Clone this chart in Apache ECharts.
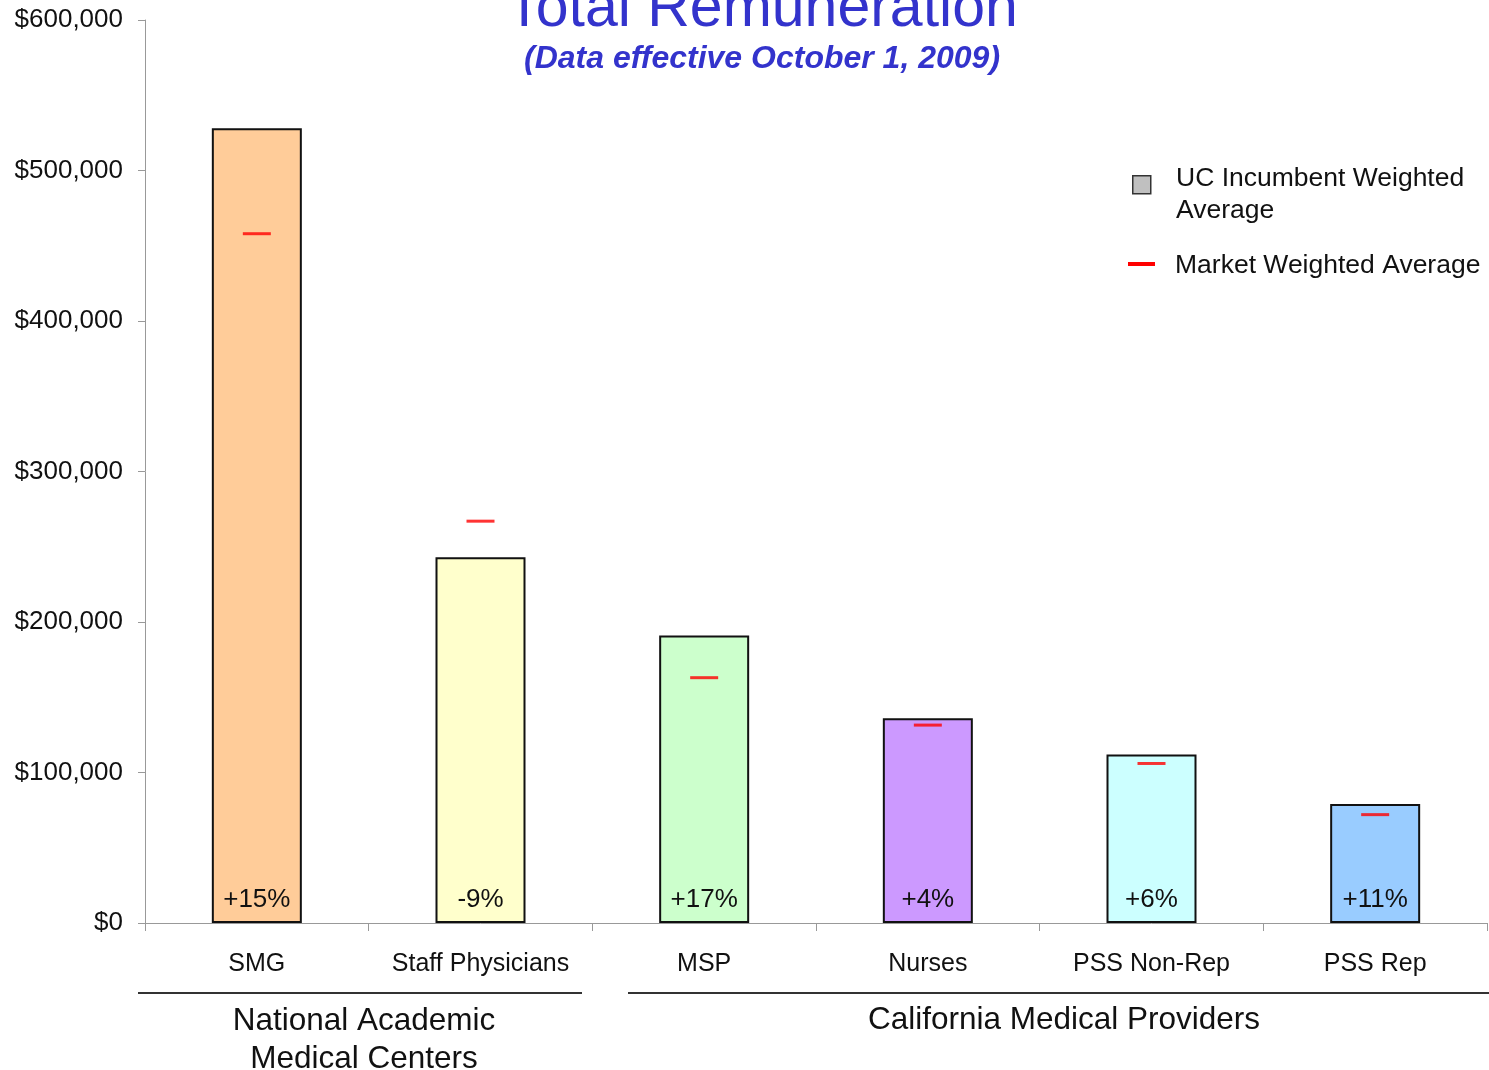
<!DOCTYPE html>
<html>
<head>
<meta charset="utf-8">
<script src="https://cdn.jsdelivr.net/npm/echarts@6/dist/echarts.min.js"></script>
<style>
html,body{margin:0;padding:0;background:#fff;}
#chart{width:1489px;height:1070px;}
</style>
</head>
<body>
<div id="chart"></div>
<script>
// ---- data ----
const categories = ['SMG', 'Staff Physicians', 'MSP', 'Nurses', 'PSS Non-Rep', 'PSS Rep'];
const ucIncumbent = [528000, 243000, 191000, 136000, 112000, 79000];
const marketAverage = [458000, 267000, 163000, 131500, 106000, 72000];
const diffLabels = ['+15%', '-9%', '+17%', '+4%', '+6%', '+11%'];
const barColors = ['#FFCC99', '#FFFFCC', '#CCFFCC', '#CC99FF', '#CCFFFF', '#99CCFF'];
const groupNames = ['National Academic\nMedical Centers', 'California Medical Providers'];
const yTicks = [0, 100000, 200000, 300000, 400000, 500000, 600000];

const FONT = '"Liberation Sans", Arial, sans-serif';
const chart = echarts.init(document.getElementById('chart'));

const option = {
  backgroundColor: '#ffffff',
  animation: false,
  textStyle: { fontFamily: FONT },
  title: {
    text: 'Total Remuneration',
    subtext: '(Data effective October 1, 2009)',
    left: 757,
    textAlign: 'center',
    top: -25,
    itemGap: 4,
    textStyle: { fontFamily: FONT, fontSize: 59, fontWeight: 'normal', color: '#3333CC' },
    subtextStyle: { fontFamily: FONT, fontSize: 32, fontWeight: 'bold', fontStyle: 'italic', color: '#3333CC' }
  },
  grid: { left: 145, right: 2, top: 20, bottom: 147, containLabel: false },
  xAxis: {
    type: 'category',
    data: categories,
    axisLine: { lineStyle: { color: '#999', width: 1 } },
    axisTick: { show: true, length: 8, interval: 0, alignWithLabel: false, lineStyle: { color: '#999' } },
    axisLabel: { margin: 29, interval: 0, fontSize: 25, color: '#111', fontFamily: FONT }
  },
  yAxis: {
    type: 'value',
    min: yTicks[0],
    max: yTicks[yTicks.length - 1],
    interval: yTicks[1] - yTicks[0],
    axisLine: { show: true, lineStyle: { color: '#999', width: 1 } },
    axisTick: { show: true, length: 7, lineStyle: { color: '#999' } },
    splitLine: { show: false },
    axisLabel: {
      margin: 22, fontSize: 26, color: '#111', fontFamily: FONT,
      formatter: v => '$' + v.toLocaleString('en-US')
    }
  },
  series: [
    {
      name: 'UC Incumbent Weighted Average',
      type: 'bar',
      barWidth: 90,
      data: ucIncumbent.map((v, i) => ({
        value: v,
        itemStyle: { color: barColors[i], borderColor: '#111', borderWidth: 2 }
      })),
      label: {
        show: true,
        position: 'insideBottom',
        distance: 10,
        fontSize: 26,
        color: '#111',
        fontFamily: FONT,
        formatter: p => diffLabels[p.dataIndex]
      }
    },
    {
      name: 'Market Weighted Average',
      type: 'scatter',
      symbol: 'rect',
      symbolSize: [28, 3],
      itemStyle: { color: '#FF0000' },
      z: 5,
      data: marketAverage
    }
  ],
  graphic: [
    // legend
    { type: 'rect', left: 1132, top: 175, shape: { width: 18, height: 18 },
      style: { fill: '#C0C0C0', stroke: '#333', lineWidth: 1.5 } },
    { type: 'text', left: 1176, top: 163,
      style: { text: 'UC Incumbent Weighted\nAverage', font: '26.5px ' + FONT, fill: '#111', lineHeight: 32 } },
    { type: 'rect', left: 1128, top: 262, shape: { width: 27, height: 4 },
      style: { fill: '#FF0000' } },
    { type: 'text', left: 1175, top: 252,
      style: { text: 'Market Weighted Average', font: '26.5px ' + FONT, fill: '#111' } },
    // group separators
    { type: 'line', shape: { x1: 138, y1: 993, x2: 582, y2: 993 }, style: { stroke: '#333', lineWidth: 2 } },
    { type: 'line', shape: { x1: 628, y1: 993, x2: 1489, y2: 993 }, style: { stroke: '#333', lineWidth: 2 } },
    { type: 'text', x: 364, y: 1002,
      style: { text: groupNames[0], font: '31.5px ' + FONT, fill: '#111', align: 'center', lineHeight: 38 } },
    { type: 'text', x: 1064, y: 1004,
      style: { text: groupNames[1], font: '31.5px ' + FONT, fill: '#111', align: 'center' } }
  ]
};
chart.setOption(option);
</script>
</body>
</html>
